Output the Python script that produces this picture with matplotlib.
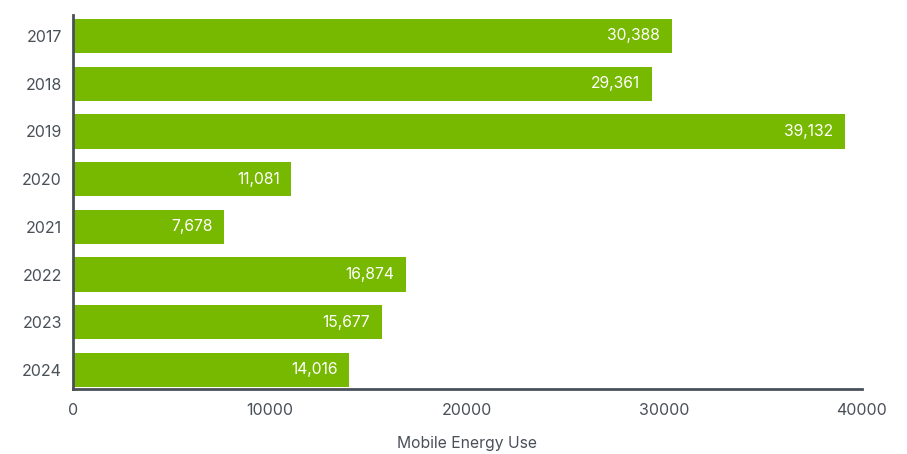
import matplotlib.pyplot as plt

years = ['2017', '2018', '2019', '2020', '2021', '2022', '2023', '2024']
energy_use = [30388, 29361, 39132, 11081, 7678, 16874, 15677, 14016]
x_ticks = [0, 10000, 20000, 30000, 40000]

plt.rcParams['font.family'] = ['Inter', 'DejaVu Sans']

fig = plt.figure(figsize=(9.07, 4.54), dpi=100)
ax = fig.add_axes([0.0805, 0.143, 0.8695, 0.824])

pos = list(range(len(years)))
bars = ax.barh(pos, energy_use, height=0.72, color='#76b900')

# value labels inside bar ends
for p, v in zip(pos, energy_use):
    ax.annotate(f'{v:,}', xy=(v, p), xytext=(-8.5, 0), textcoords='offset points',
                ha='right', va='center', color='white', fontsize=11.3)

ax.set_yticks(pos)
ax.set_yticklabels(years)
ax.set_ylim(len(years) - 0.6, -0.44)
ax.set_xlim(0, 40000)
ax.set_xticks(x_ticks)
ax.set_xticklabels([str(t) for t in x_ticks])

axis_col = '#4a5058'
for s in ['top', 'right']:
    ax.spines[s].set_visible(False)
for s in ['left', 'bottom']:
    ax.spines[s].set_color(axis_col)
    ax.spines[s].set_linewidth(2)
ax.tick_params(length=0, labelsize=11.5, labelcolor=axis_col, pad=8)
ax.tick_params(axis='x', pad=10)

ax.set_xlabel('Mobile Energy Use', fontsize=11.3, color=axis_col, labelpad=13)

fig.savefig('out.png', dpi=100)
